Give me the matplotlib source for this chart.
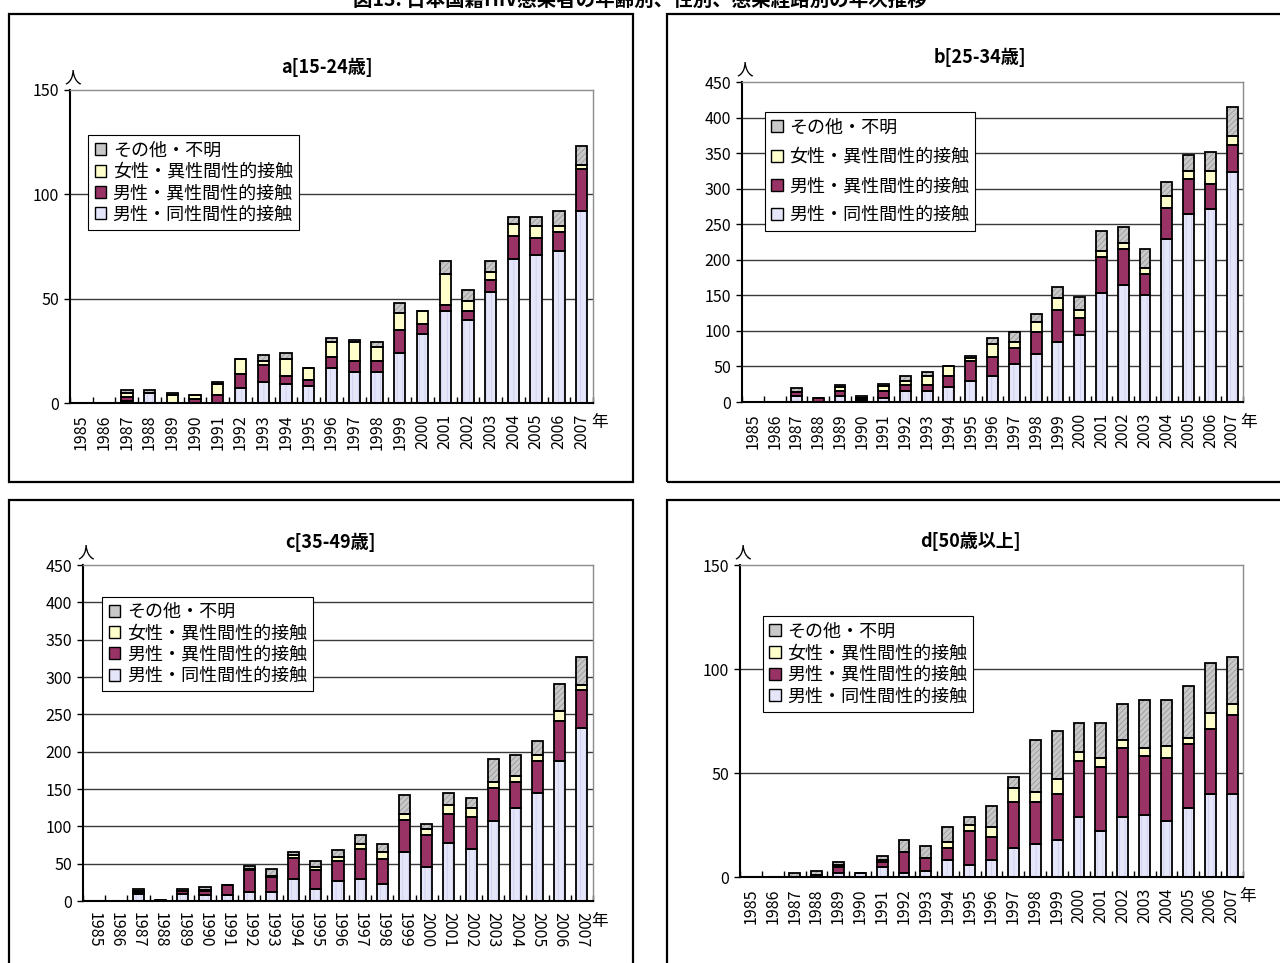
import matplotlib
matplotlib.use("Agg")
import matplotlib.pyplot as plt
from matplotlib.patches import Rectangle, Patch
from matplotlib.transforms import offset_copy
import numpy as np

plt.rcParams["font.family"] = ["Noto Sans CJK JP", "DejaVu Sans"]
plt.rcParams["hatch.linewidth"] = 0.6

years = [str(y) for y in range(1985, 2008)]
series_labels = ["男性・同性間性的接触", "男性・異性間性的接触", "女性・異性間性的接触", "その他・不明"]

# a [15-24歳]
a_msm = [0, 0, 1, 5, 0, 0, 0, 7, 10, 9, 8, 17, 15, 15, 24, 33, 44, 40, 53, 69, 71, 73, 92]
a_mhet = [0, 0, 2, 0, 0, 2, 4, 7, 8, 4, 3, 5, 5, 5, 11, 5, 3, 4, 6, 11, 8, 9, 20]
a_fhet = [0, 0, 2, 0, 4, 2, 5, 7, 2, 8, 6, 7, 9, 7, 8, 6, 15, 5, 4, 6, 6, 3, 2]
a_other = [0, 0, 1, 1, 1, 0, 1, 0, 3, 3, 0, 2, 1, 2, 5, 0, 6, 5, 5, 3, 4, 7, 9]

# b [25-34歳]
b_msm = [0, 0, 8, 0, 8, 3, 6, 15, 15, 21, 29, 37, 53, 67, 85, 94, 153, 165, 150, 229, 264, 272, 323]
b_mhet = [0, 0, 6, 6, 7, 2, 9, 9, 9, 16, 29, 26, 23, 31, 45, 24, 51, 50, 30, 44, 50, 35, 39]
b_fhet = [0, 0, 0, 0, 6, 1, 8, 6, 12, 14, 4, 19, 8, 14, 16, 12, 8, 9, 9, 17, 11, 18, 12]
b_other = [0, 0, 5, 0, 3, 2, 3, 6, 6, 0, 3, 8, 15, 12, 16, 17, 28, 22, 26, 19, 22, 26, 41]

# c [35-49歳]
c_msm = [0, 0, 10, 0, 10, 8, 8, 12, 12, 30, 16, 27, 29, 23, 66, 45, 78, 70, 107, 125, 145, 187, 232]
c_mhet = [0, 0, 1, 2, 3, 5, 13, 29, 20, 27, 26, 27, 41, 33, 43, 44, 39, 42, 44, 34, 42, 54, 50]
c_fhet = [0, 0, 2, 0, 1, 2, 0, 2, 1, 4, 4, 5, 6, 9, 8, 7, 12, 13, 8, 9, 8, 13, 7]
c_other = [0, 0, 3, 0, 2, 4, 0, 4, 10, 4, 8, 9, 12, 12, 25, 7, 15, 13, 31, 27, 19, 36, 38]

# d [50歳以上]
d_msm = [0, 0, 0, 0, 2, 2, 5, 2, 3, 8, 6, 8, 14, 16, 18, 29, 22, 29, 30, 27, 33, 40, 40]
d_mhet = [0, 0, 0, 1, 3, 0, 2, 10, 6, 6, 16, 11, 22, 20, 22, 27, 31, 33, 28, 30, 31, 31, 38]
d_fhet = [0, 0, 0, 0, 1, 0, 1, 0, 0, 3, 3, 5, 7, 5, 7, 4, 4, 4, 4, 6, 3, 8, 5]
d_other = [0, 0, 2, 2, 1, 0, 2, 6, 6, 7, 4, 10, 5, 25, 23, 14, 17, 17, 23, 22, 25, 24, 23]

fill_colors = ["#E6E6FA", "#993366", "#FFFFCC", "#C8C8C8"]
hatches = ["|||", None, None, "//////"]
hatch_colors = ["#CFCFEF", None, None, "#9A9A9A"]

W, H = 1280, 963
fig = plt.figure(figsize=(W / 100, H / 100), dpi=100)


def px_rect(x0, y0, x1, y1):
    return [x0 / W, 1 - y1 / H, (x1 - x0) / W, (y1 - y0) / H]


# outer chart frames
for (x0, y0, x1, y1) in [(9, 14, 633, 482), (667, 14, 1290, 482),
                         (9, 500, 633, 975), (667, 500, 1290, 975)]:
    fig.add_artist(Rectangle((x0 / W, 1 - y1 / H), (x1 - x0) / W, (y1 - y0) / H,
                             transform=fig.transFigure, fill=False,
                             edgecolor="black", linewidth=1.6))

fig.text(0.5, 1.0, "図13. 日本国籍HIV感染者の年齢別、性別、感染経路別の年次推移",
         ha="center", va="center", fontsize=14, fontweight="bold")

panels = [
    dict(title="a[15-24歳]", data=(a_msm, a_mhet, a_fhet, a_other),
         rect=(70, 90, 593, 403), ymax=150, ystep=50, rot=90,
         leg=(0.035, 0.855), lsp=0.18, title_xy=(327, 67), nen_dx=7),
    dict(title="b[25-34歳]", data=(b_msm, b_mhet, b_fhet, b_other),
         rect=(742, 82, 1243, 402), ymax=450, ystep=50, rot=90,
         leg=(0.045, 0.905), lsp=0.62, title_xy=(980, 57), nen_dx=6),
    dict(title="c[35-49歳]", data=(c_msm, c_mhet, c_fhet, c_other),
         rect=(83, 565, 593, 901), ymax=450, ystep=50, rot=-90,
         leg=(0.038, 0.905), lsp=0.18, title_xy=(330, 542), nen_dx=7),
    dict(title="d[50歳以上]", data=(d_msm, d_mhet, d_fhet, d_other),
         rect=(740, 565, 1243, 877), ymax=150, ystep=50, rot=90,
         leg=(0.045, 0.835), lsp=0.2, title_xy=(970, 541), nen_dx=5),
]

x = np.arange(len(years))
bw = 0.5

for p in panels:
    x0, y0, x1, y1 = p["rect"]
    ax = fig.add_axes(px_rect(x0, y0, x1, y1))
    ax.set_xlim(-0.5, len(years) - 0.5)
    ax.set_ylim(0, p["ymax"])
    ticks = np.arange(0, p["ymax"] + 1, p["ystep"])
    ax.set_yticks(ticks)
    ax.set_yticklabels([str(t) for t in ticks], fontsize=11.5)
    for t in ticks[1:-1]:
        ax.axhline(t, color="#3a3a3a", linewidth=1.0, zorder=0.5)

    bottom = np.zeros(len(years))
    for k, vals in enumerate(p["data"]):
        vals = np.array(vals, dtype=float)
        if hatches[k]:
            ax.bar(x, vals, bw, bottom=bottom, color=fill_colors[k],
                   hatch=hatches[k], edgecolor=hatch_colors[k], linewidth=0, zorder=2)
        else:
            ax.bar(x, vals, bw, bottom=bottom, color=fill_colors[k],
                   linewidth=0, zorder=2)
        ax.bar(x, vals, bw, bottom=bottom, fill=False, edgecolor="black",
               linewidth=1.3, zorder=3)
        bottom += vals

    for side in ("top", "right"):
        ax.spines[side].set_color("#8c8c8c")
        ax.spines[side].set_linewidth(1.0)
    for side in ("left", "bottom"):
        ax.spines[side].set_color("black")
        ax.spines[side].set_linewidth(1.5)

    ax.set_xticks(x)
    ax.set_xticklabels(years, rotation=p["rot"], fontsize=11.5,
                       va="top", ha="center")
    ax.tick_params(axis="x", which="major", length=0, pad=8)
    ax.set_xticks(np.arange(-0.5, len(years), 1.0), minor=True)
    ax.tick_params(axis="x", which="minor", direction="in", length=4, width=1)
    ax.tick_params(axis="y", direction="out", length=4, width=1, pad=4)

    tx, ty = p["title_xy"]
    ax.text(tx / W, (H - ty) / H, p["title"], transform=fig.transFigure,
            ha="center", va="center", fontsize=13, fontweight="bold")
    ax.text((x0 + 3) / W, (H - y0 + 4) / H, "人", transform=fig.transFigure,
            ha="center", va="bottom", fontsize=12)
    ax.text(1.0, 0.0, "年",
            transform=offset_copy(ax.transAxes, fig=fig, x=p["nen_dx"], y=-20, units="dots"),
            ha="center", va="center", fontsize=12)

    handles = [Patch(facecolor=fill_colors[k], edgecolor="black", linewidth=1.0)
               for k in range(4)]
    leg = ax.legend(handles[::-1], series_labels[::-1], loc="upper left",
                    bbox_to_anchor=p["leg"], fontsize=13, frameon=True,
                    fancybox=False, framealpha=1, edgecolor="black",
                    handlelength=0.65, handleheight=0.65, handletextpad=0.35,
                    labelspacing=p["lsp"], borderpad=0.35, borderaxespad=0)
    leg.get_frame().set_linewidth(0.8)
    leg.set_zorder(5)

fig.savefig("out.png", dpi=100)
